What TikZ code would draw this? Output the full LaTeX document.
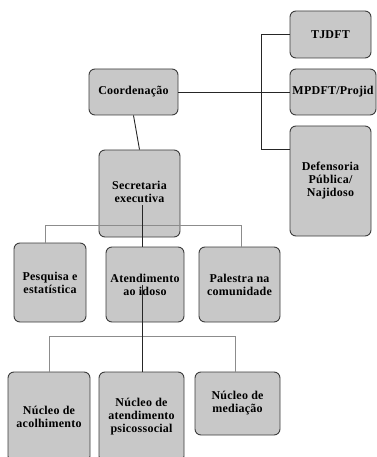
\documentclass[tikz,border=0pt]{standalone}
\usepackage{fontspec}
\setmainfont{Liberation Serif}[LetterSpace=2]
\definecolor{boxgray}{HTML}{C8C8C8}
\definecolor{edgegray}{HTML}{3C3C3C}
\definecolor{busgray}{HTML}{8C8C8C}
\begin{document}
\begin{tikzpicture}[x=1pt,y=-1pt,
  box/.style={draw=edgegray,fill=boxgray,line width=0.9pt,rounded corners=6pt,
    align=center,inner sep=1pt,font=\fontsize{12}{13}\selectfont\bfseries},
  dark/.style={draw=black!85,line width=0.9pt},
  bus/.style={draw=busgray,line width=0.8pt}]
\useasboundingbox (0,0) rectangle (376,457);
\node [box,minimum width=89pt,minimum height=46pt] (coord) at (133.5,92) {Coordenação};
\node [box,minimum width=81pt,minimum height=47pt] (tjdft) at (330.5,34.5) {TJDFT};
\node [box,minimum width=86pt,minimum height=46pt] (mpdft) at (333,92) {MPDFT/Projid};
\node [box,minimum width=81pt,minimum height=110pt] (defens) at (330.5,181) {Defensoria\\Pública/\\Najidoso};
\node [box,minimum width=81pt,minimum height=87pt] (secret) at (139.5,193.5)
  {\raisebox{8pt}{\begin{tabular}{@{}c@{}}Secretaria\\executiva\end{tabular}}};
\node [box,minimum width=72pt,minimum height=79pt] (pesq) at (50,282.5) {Pesquisa e\\estatística};
\node [box,minimum width=78pt,minimum height=75pt] (atend) at (145,284.5) {Atendimento\\ao idoso};
\node [box,minimum width=81pt,minimum height=75pt] (palest) at (239.5,284.5) {Palestra na\\comunidade};
\node [box,minimum width=82pt,minimum height=90pt] (acolh) at (49,417) {Núcleo de\\acolhimento};
\node [box,minimum width=85pt,minimum height=90pt] (psico) at (141.5,417) {Núcleo de\\atendimento\\psicossocial};
\node [box,minimum width=85pt,minimum height=63pt] (media) at (237.5,403.5) {Núcleo de\\mediação};

\coordinate (rbus) at (261,149);
\coordinate (sdown) at (142,205);
\coordinate (adown) at (142,285);
\coordinate (b1l) at (45,225);
\coordinate (b1r) at (241,225);
\coordinate (b2l) at (49,336);
\coordinate (b2r) at (235,336);

\draw [dark] (coord.south) -- (secret.north);
\draw [dark] (coord.east) -- (mpdft.west);
\draw [dark] (tjdft.west) -| (rbus) -- (rbus -| defens.west);
\draw [bus] (b1l |- pesq.north) -- (b1l) -- (b1r) -- (b1r |- palest.north);
\draw [dark] (sdown) -- (sdown |- atend.north);
\draw [bus] (b2l |- acolh.north) -- (b2l) -- (b2r) -- (b2r |- media.north);
\draw [dark] (adown) -- (adown |- psico.north);
\end{tikzpicture}
\end{document}
